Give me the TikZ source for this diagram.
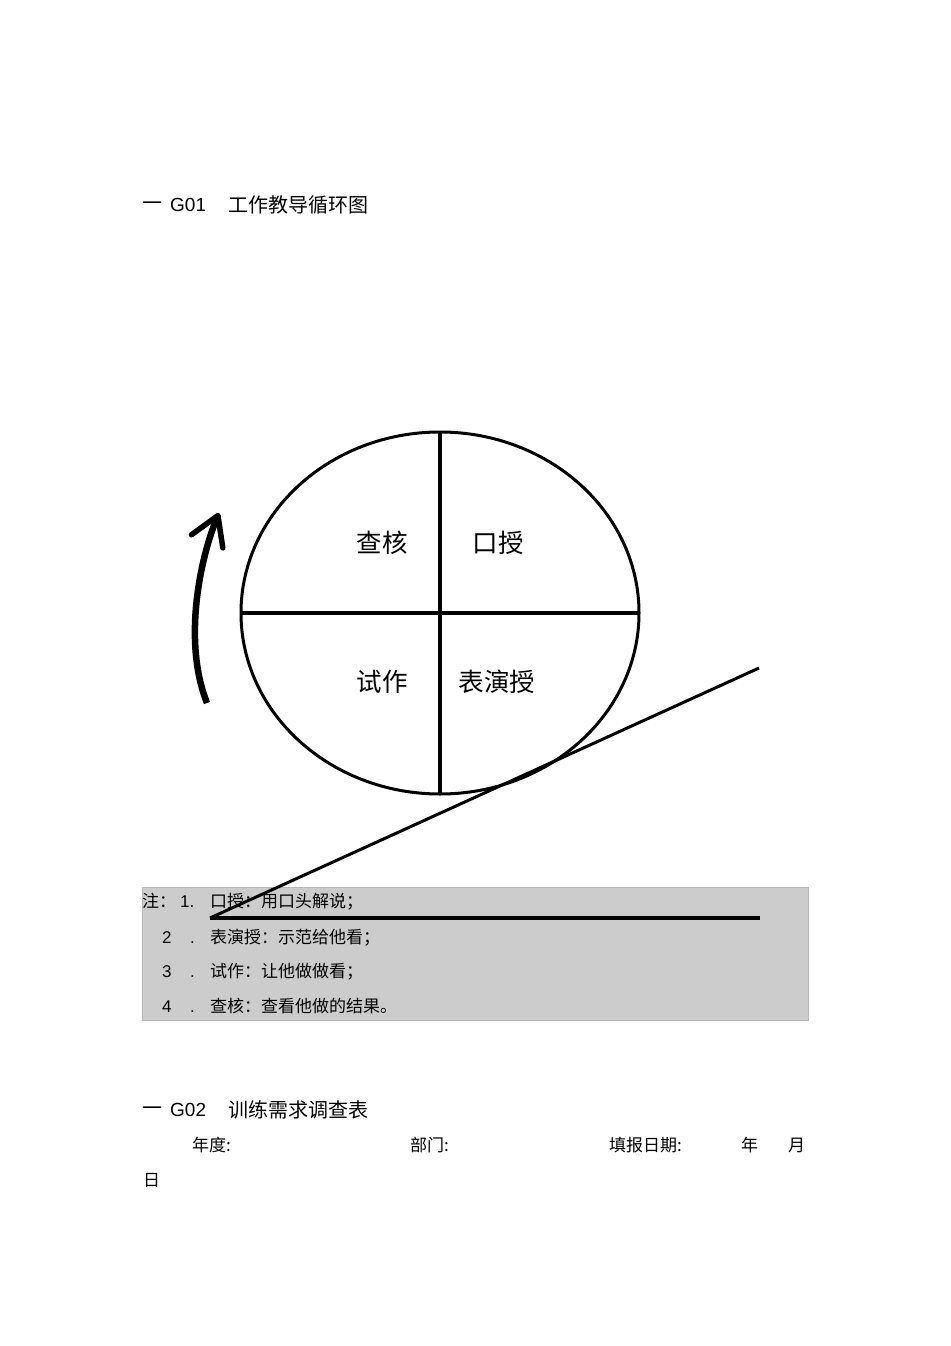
\documentclass[tikz,border=0pt]{standalone}
\usepackage{fontspec}
\setmainfont{Liberation Sans}
\newfontfamily\cjk{Noto Sans CJK SC}
\usetikzlibrary{positioning}
\usetikzlibrary{shapes.geometric}
\usetikzlibrary{arrows.meta}

\begin{document}
\begin{tikzpicture}[x=1pt,y=-1pt,
  txt/.style={anchor=west,inner sep=0pt,text height=14.96pt,text depth=2.04pt,
    font=\fontsize{17}{20}\selectfont\cjk},
  num/.style={txt,font=\fontsize{17}{20}\selectfont},
  head/.style={anchor=west,inner sep=0pt,font=\fontsize{20}{24}\selectfont\cjk},
  part/.style={inner sep=0pt,font=\fontsize{25.5}{30}\selectfont\cjk}]
  \useasboundingbox[fill=white] (0,0) rectangle (950,1346);
  % title of the first figure
  \node[head] (t1) at (142,206) {一};
  \node[head,font=\fontsize{19}{24}\selectfont] (t1n) at (170,205) {G01};
  \node[head] (t1t) at (228,205) {工作教导循环图};
  % the wheel
  \node[ellipse,draw,line width=3pt,minimum width=398pt,minimum height=362pt,
    inner sep=0pt,outer sep=0pt] (wheel) at (440,613) {};
  \draw[line width=4pt] (wheel.west) -- (wheel.east);
  \draw[line width=3.5pt] (wheel.north) -- (wheel.south);
  \node[part] (check) at (382,543) {查核};
  \node[part] (tell) at (498,543) {口授};
  \node[part] (try) at (382,682) {试作};
  \node[part] (show) at (497,682) {表演授};
  % note box
  \node[fill=black!20,draw=black!28,line width=0.6pt,minimum width=666pt,minimum height=133pt,
    inner sep=0pt] (notes) at (475,953.5) {};
  % slope
  \coordinate (foot) at (210,918);
  \coordinate (up) at (759,668);
  \coordinate (flat) at (760,918);
  \draw[line width=3pt] (foot) -- (up);
  \draw[line width=4pt] (foot) -- (flat);
  % turning arrow
  \coordinate (from) at (207,703);
  \coordinate (to) at (219,513);
  \draw[line width=6.5pt,-{Straight Barb[length=28pt,width=34pt,line width=5.5pt,round]}]
    (from) .. controls (182,640) and (201,556) .. (to);
  % notes
  \node[txt] (n0) at (142,901) {注：};
  \node[num] (n1) at (180,901) {1.};
  \node[txt] (l1) at (210,901) {口授：用口头解说；};
  \foreach \k/\y/\s in {2/937/表演授：示范给他看；,3/971/试作：让他做做看；,4/1006/查核：查看他做的结果。}{
    \node[num] (k\k) at (162,\y) {\k};
    \node[num] (d\k) at (190,\y) {.};
    \node[txt] (l\k) at (210,\y) {\s};
  }
  % title of the second form
  \node[head] (t2) at (142,1111) {一};
  \node[head,font=\fontsize{19}{24}\selectfont] (t2n) at (170,1110) {G02};
  \node[head] (t2t) at (228,1110) {训练需求调查表};
  \node[txt] (year) at (192,1145) {年度:};
  \node[txt] (dept) at (410,1145) {部门:};
  \node[txt] (date) at (609,1145) {填报日期:};
  \node[txt] (yy) at (741,1145) {年};
  \node[txt] (mm) at (788,1145) {月};
  \node[txt] (dd) at (143,1180) {日};
\end{tikzpicture}
\end{document}
